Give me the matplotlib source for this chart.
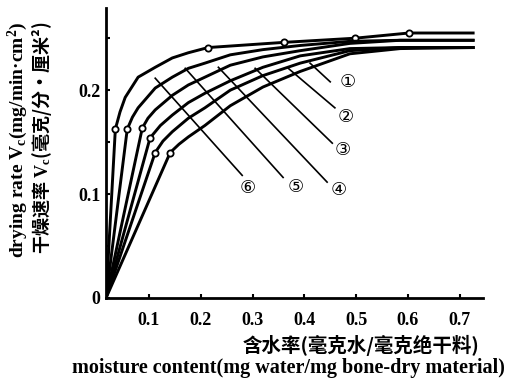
import matplotlib
matplotlib.use("Agg")
import matplotlib.pyplot as plt

plt.rcParams['font.family'] = ['Liberation Serif', 'Noto Sans CJK SC', 'DejaVu Sans']
plt.rcParams['mathtext.fontset'] = 'custom'
plt.rcParams['mathtext.rm'] = 'Liberation Serif:bold'
plt.rcParams['mathtext.it'] = 'Liberation Serif:bold'
plt.rcParams['mathtext.bf'] = 'Liberation Serif:bold'

# drying-rate curves (moisture content, drying rate)
x6 = [0.017, 0.035, 0.044, 0.054, 0.079, 0.112, 0.145, 0.176, 0.214, 0.361, 0.498, 0.602, 0.726]
y6 = [0, 0.1625, 0.179, 0.193, 0.2125, 0.222, 0.231, 0.236, 0.241, 0.246, 0.250, 0.255, 0.255]
x5 = [0.017, 0.058, 0.068, 0.079, 0.112, 0.145, 0.176, 0.208, 0.257, 0.32, 0.392, 0.488, 0.585, 0.726]
y5 = [0, 0.1625, 0.174, 0.183, 0.202, 0.2125, 0.221, 0.226, 0.234, 0.239, 0.243, 0.247, 0.248, 0.248]
x4 = [0.017, 0.087, 0.098, 0.112, 0.145, 0.176, 0.208, 0.257, 0.32, 0.392, 0.488, 0.585, 0.726]
y4 = [0, 0.1635, 0.173, 0.181, 0.195, 0.205, 0.2125, 0.224, 0.232, 0.238, 0.245, 0.248, 0.248]
x3 = [0.017, 0.102, 0.122, 0.145, 0.176, 0.208, 0.257, 0.32, 0.392, 0.488, 0.585, 0.726]
y3 = [0, 0.154, 0.166, 0.176, 0.188, 0.197, 0.209, 0.222, 0.233, 0.240, 0.241, 0.241]
x2 = [0.017, 0.112, 0.127, 0.145, 0.176, 0.208, 0.257, 0.32, 0.392, 0.488, 0.585, 0.726]
y2 = [0, 0.140, 0.151, 0.160, 0.173, 0.183, 0.200, 0.214, 0.226, 0.238, 0.241, 0.241]
x1 = [0.017, 0.141, 0.158, 0.176, 0.208, 0.257, 0.32, 0.392, 0.488, 0.585, 0.726]
y1 = [0, 0.140, 0.148, 0.155, 0.166, 0.185, 0.203, 0.218, 0.235, 0.240, 0.241]

curves = [(x6, y6, [1, 8, 9, 10, 11]), (x5, y5, [1]), (x4, y4, [1]),
          (x3, y3, [1]), (x2, y2, [1]), (x1, y1, [1])]

# leader lines: label, upper end, lower end, label position
labels = ['⑥', '⑤', '④', '③', '②', '①']
lead_top = [(0.112, 0.2115), (0.170, 0.221), (0.234, 0.222), (0.305, 0.221), (0.369, 0.221), (0.411, 0.226)]
lead_bot = [(0.280, 0.118), (0.359, 0.116), (0.444, 0.1115), (0.454, 0.149), (0.459, 0.183), (0.450, 0.208)]
lab_pos = [(0.291, 0.106), (0.383, 0.107), (0.466, 0.104), (0.475, 0.142), (0.480, 0.174), (0.484, 0.208)]

xticks = [0.1, 0.2, 0.3, 0.4, 0.5, 0.6, 0.7]
yticks = [0, 0.05, 0.1, 0.15, 0.2, 0.25]
ylabels = ['0', '', '0.1', '', '0.2', '']

fig = plt.figure(figsize=(5.21, 3.84), dpi=100)
ax = fig.add_axes([0.2035, 0.224, 0.7235, 0.755])

for xs, ys, mk in curves:
    ax.plot(xs, ys, color='black', lw=2.1, marker='o', markevery=mk,
            ms=4.5, mfc='white', mec='black', mew=1.3, solid_joinstyle='round')

for lab, (xa, ya), (xb, yb), (xl, yl) in zip(labels, lead_top, lead_bot, lab_pos):
    ax.plot([xa, xb], [ya, yb], color='black', lw=1.2)
    ax.text(xl, yl, lab, ha='center', va='center', fontsize=13,
            family=['DejaVu Sans'])

ax.set_xlim(0.017, 0.745)
ax.set_ylim(0, 0.279)
ax.set_xticks(xticks)
ax.set_xticklabels([f'{t:.1f}' for t in xticks], fontsize=13, fontweight='bold')
ax.set_yticks(yticks)
ax.set_yticklabels(ylabels, fontsize=13, fontweight='bold')
ax.tick_params(direction='in', length=3, width=1.5)
ax.tick_params(axis='x', pad=10)
ax.tick_params(axis='y', pad=4)
for s in ['top', 'right']:
    ax.spines[s].set_visible(False)
for s in ['left', 'bottom']:
    ax.spines[s].set_linewidth(2)

fig.text(0.035, 0.635, r'drying rate $V_c$(mg/min·cm$^2$)', rotation=90,
         ha='center', va='center', fontsize=14, fontweight='bold')
fig.text(0.081, 0.64, '干燥速率 $V_c$(毫克/分·厘米²)', rotation=90,
         ha='center', va='center', fontsize=13, fontweight='bold',
         family='Noto Sans CJK SC')
fig.text(0.693, 0.101, '含水率(毫克水/毫克绝干料)', ha='center', va='center',
         fontsize=14, fontweight='bold', family='Noto Sans CJK SC')
fig.text(0.553, 0.042, 'moisture content(mg water/mg bone-dry material)',
         ha='center', va='center', fontsize=14.5, fontweight='bold')

fig.savefig('out.png', dpi=100)
